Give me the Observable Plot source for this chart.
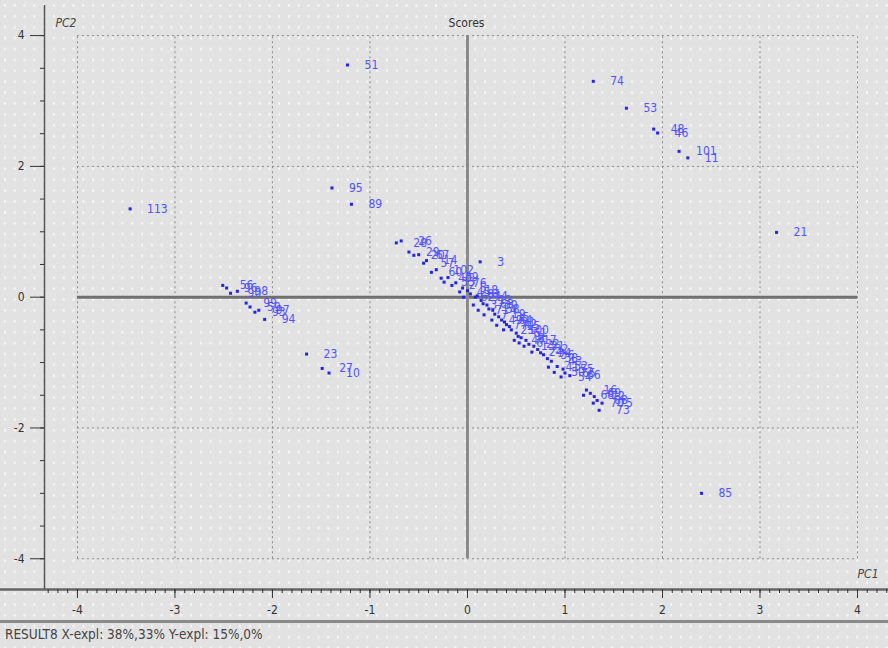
<!DOCTYPE html>
<html>
<head>
<meta charset="utf-8">
<script src="https://cdn.jsdelivr.net/npm/d3@7"></script>
<script src="https://cdn.jsdelivr.net/npm/@observablehq/plot@0.6"></script>
<style>
  html, body { margin: 0; padding: 0; }
  body {
    width: 888px; height: 648px; overflow: hidden;
    background-color: #e2e2e2;
    background-image: radial-gradient(circle, #fafafa 0.9px, transparent 1.4px);
    background-size: 9.8px 10.9px;
    font-family: "DejaVu Sans Condensed", "DejaVu Sans", sans-serif;
  }
  svg text { font-stretch: condensed; }
  #status {
    height: 25px; border-top: 3px solid #8a8a8a; box-sizing: border-box;
    font-size: 13.5px; font-stretch: condensed; color: #444; padding-left: 5px; line-height: 22px;
  }
</style>
</head>
<body>
<div id="chart"></div>
<div id="status">RESULT8 X-expl: 38%,33% Y-expl: 15%,0%</div>
<script>
// Sample ids and scores (PC1, PC2)
const ids = [
  51, 74, 53, 48, 46, 101, 11, 21, 113, 95, 89, 3, 85, 23, 27, 10,
  56, 96, 90, 98, 99, 59, 93, 97, 94,
  28, 26, 29, 20, 67, 57, 14, 60, 102, 40, 33, 39, 2, 76, 45, 5, 62, 18, 81, 37,
  9, 44, 71, 12, 63, 7, 30, 58, 49, 4, 19, 77, 35, 64, 25, 91, 42, 15, 100, 47,
  61, 1, 6, 8, 13, 17, 22, 24, 31, 32, 34, 36, 38, 41, 43, 50, 52, 54, 55, 65,
  66, 68, 16, 69, 70, 72, 88, 73, 75
];
const pc1 = [
  -1.23, 1.29, 1.63, 1.91, 1.95, 2.17, 2.26, 3.17, -3.46, -1.39, -1.19, 0.13, 2.40, -1.65, -1.49, -1.42,
  -2.51, -2.47, -2.43, -2.36, -2.27, -2.23, -2.18, -2.14, -2.08,
  -0.73, -0.68, -0.60, -0.55, -0.50, -0.45, -0.42, -0.37, -0.32, -0.27, -0.24, -0.20, -0.16, -0.12, -0.08, -0.05, -0.04, 0.00, 0.03, 0.06,
  0.08, 0.10, 0.11, 0.14, 0.16, 0.17, 0.20, 0.22, 0.25, 0.26, 0.28, 0.30, 0.32, 0.35, 0.37, 0.38, 0.40, 0.43, 0.45, 0.48,
  0.50, 0.52, 0.53, 0.55, 0.58, 0.60, 0.63, 0.66, 0.68, 0.72, 0.75, 0.78, 0.82, 0.83, 0.86, 0.89, 0.92, 0.96, 0.98, 1.00,
  1.05, 1.19, 1.22, 1.26, 1.29, 1.30, 1.33, 1.35, 1.38
];
const pc2 = [
  3.55, 3.30, 2.89, 2.57, 2.51, 2.23, 2.13, 0.99, 1.35, 1.67, 1.42, 0.54, -3.00, -0.87, -1.09, -1.16,
  0.18, 0.14, 0.06, 0.09, -0.09, -0.15, -0.23, -0.20, -0.34,
  0.83, 0.86, 0.69, 0.64, 0.65, 0.52, 0.56, 0.38, 0.42, 0.29, 0.23, 0.30, 0.18, 0.22, 0.08, 0.14, 0.00, 0.10, 0.05, -0.12,
  0.00, 0.02, -0.20, -0.05, -0.10, -0.27, -0.12, -0.18, -0.35, -0.20, -0.26, -0.43, -0.30, -0.35, -0.50, -0.38, -0.42, -0.45, -0.50, -0.66,
  -0.55, -0.60, -0.70, -0.62, -0.75, -0.66, -0.72, -0.84, -0.75, -0.80, -0.85, -0.88, -0.94, -1.07, -0.98, -1.15, -1.06, -1.22, -1.10, -1.16,
  -1.20, -1.50, -1.42, -1.47, -1.62, -1.52, -1.58, -1.73, -1.62
];

const xMajor = [-4, -3, -2, -1, 0, 1, 2, 3, 4];
const yMajor = [-4, -2, 0, 2, 4];
const gridX = [-4, -3, -2, -1, 1, 2, 3, 4];
const gridY = [-4, -2, 2, 4];
const xMinor = d3.range(-43, 44).map(d => d / 10);
const yMinor = d3.range(-8, 9).map(d => d / 2);

const data = ids.map((id, i) => ({id: String(id), x: pc1[i], y: pc2[i]}));

const xDomain = [-4.338, 4.318];
const yDomain = [-4.47, 4.46];
const W = 888, H = 620, mL = 44, mR = 0, mT = 5, mB = 31;
const leftEdge = xDomain[0] - mL * (xDomain[1] - xDomain[0]) / (W - mL - mR);

const font = "'DejaVu Sans Condensed', 'DejaVu Sans', sans-serif";
const axisCol = "#333";

const chart = Plot.plot({
  width: W, height: H,
  marginLeft: mL, marginRight: mR, marginTop: mT, marginBottom: mB,
  style: {background: "transparent", fontFamily: font, fontSize: "12px", color: axisCol},
  x: {domain: xDomain, axis: null},
  y: {domain: yDomain, axis: null},
  marks: [
    Plot.ruleX(gridX, {y1: -4, y2: 4, stroke: "#8c8c8c", strokeDasharray: "2,3", strokeWidth: 1}),
    Plot.ruleY(gridY, {x1: -4, x2: 4, stroke: "#8c8c8c", strokeDasharray: "2,3", strokeWidth: 1}),
    Plot.ruleY([0], {x1: -4, x2: 4, stroke: "#6f6f6f", strokeWidth: 3}),
    Plot.ruleX([0], {y1: -4, y2: 4, stroke: "#8a8a8a", strokeWidth: 3}),
    // frame lines
    Plot.ruleX([xDomain[0]], {stroke: "#555", strokeWidth: 1.5}),
    Plot.ruleY([yDomain[0]], {x1: leftEdge, x2: xDomain[1], stroke: "#666", strokeWidth: 2.5}),
    // axes
    Plot.axisY(yMajor, {tickSize: 14, tickPadding: 6, tickFormat: d => String(d), label: null, fontSize: 12, stroke: axisCol}),
    Plot.axisY(yMinor, {tickSize: 4, tickFormat: () => "", label: null, stroke: axisCol}),
    Plot.axisX(xMajor, {tickSize: 9, tickPadding: 7, tickFormat: d => String(d), label: null, fontSize: 12, stroke: axisCol}),
    Plot.axisX(xMinor, {tickSize: 4, tickFormat: () => "", label: null, stroke: axisCol}),
    // titles
    Plot.text(["Scores"], {frameAnchor: "top", dy: 13, fontSize: 12, fill: "#333"}),
    Plot.text(["PC2"], {frameAnchor: "top-left", dx: 11, dy: 13, textAnchor: "start", fontSize: 12, fontStyle: "italic", fill: "#444"}),
    Plot.text(["PC1"], {frameAnchor: "bottom-right", dx: -10, dy: -12, textAnchor: "end", fontSize: 12, fontStyle: "italic", fill: "#444"}),
    // scores: points first, their labels drawn over them
    Plot.dot(data, {x: "x", y: "y", symbol: "square", r: 1.7, fill: "#2424e8", stroke: null}),
    Plot.text(data, {x: "x", y: "y", text: "id", dx: 17, textAnchor: "start", fill: "#5252ff", fontSize: 12})
  ]
});
document.getElementById("chart").appendChild(chart);
</script>
</body>
</html>
